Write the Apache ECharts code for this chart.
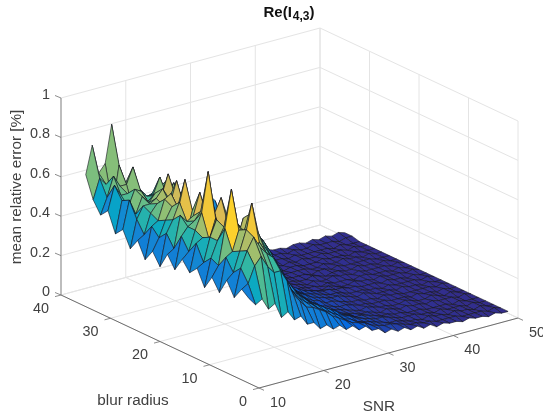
<!DOCTYPE html>
<html><head><meta charset="utf-8">
<script src="https://cdn.jsdelivr.net/npm/echarts@6/dist/echarts.min.js"></script>
<style>html,body{margin:0;padding:0;background:#fff}#c{width:543px;height:419px}</style>
</head><body><div id="c"></div>
<script>
const snrValues=[10,11,12,13,14,15,16,17,18,19,20,21,22,23,24,25,26,27,28,29,30,31,32,33,34,35,36,37,38,39,40,41,42,43,44,45,46,47,48,49,50];
const blurValues=[2,3.5,5,6.5,8,9.5,11,12.5,14,15.5,17,18.5,20,21.5,23,24.5,26,27.5,29,30.5,32,33.5,35];
const snrTicks=[10,20,30,40,50];
const blurTicks=[0,10,20,30,40];
const zTicks=[0,0.2,0.4,0.6,0.8,1];
const zTickLabels=['0','0.2','0.4','0.6','0.8','1'];
// mean relative error in hundredths of a percent; one row per blur radius, one column per SNR
const r01=[43,39,41,35,37, 29,31,26,27,22, 22,18,19,16,17, 14,15,12,13,10, 10,7,8,6,7, 5,6,4,5,3, 4,3,3,2,3, 2,2,1,2,1, 1];
const r02=[46,48,56,60,54, 50,50,44,36,32, 28,27,25,23,20, 18,16,14,13,12, 10,9,8,8,7, 6,5,5,4,4, 3,3,3,3,2, 2,2,2,1,2, 1];
const r03=[40,54,62,68,62, 58,55,47,41,35, 31,28,26,23,21, 19,17,14,13,11, 10,9,8,7,6, 6,5,4,4,3, 4,3,3,2,3, 2,2,1,2,1, 1];
const r04=[47,50,60,70,55, 62,56,52,46,40, 33,30,27,24,22, 20,18,16,13,12, 10,9,8,7,7, 6,5,4,4,4, 3,3,2,3,2, 2,2,1,2,1, 1];
const r05=[39,56,58,68,64, 80,64,56,50,44, 38,33,28,25,22, 20,17,15,12,11, 10,8,8,7,6, 5,5,4,4,3, 3,3,2,2,2, 2,1,2,1,1, 1];
const r06=[45,50,68,87,68, 64,72,58,56,50, 43,37,30,26,22, 19,17,15,12,10, 9,8,7,6,6, 5,4,5,4,3, 4,3,3,2,3, 2,2,2,1,2, 1];
const r07=[38,52,60,66,64, 58,68,56,58,54, 46,40,34,27,22, 18,16,14,12,10, 9,8,7,6,5, 6,5,4,4,3, 3,4,3,2,2, 3,2,1,2,1, 1];
const r08=[46,48,60,68,54, 62,52,60,60,54, 52,46,40,34,26, 20,17,14,12,10, 9,8,7,7,6, 5,5,4,4,4, 3,3,3,2,3, 2,2,1,2,1, 1];
const r09=[42,56,58,56,66, 55,60,62,56,52, 46,44,38,32,26, 21,18,15,13,11, 10,8,8,7,6, 5,5,4,4,3, 4,3,3,2,2, 2,2,2,1,2, 1];
const r10=[47,50,60,68,88, 66,73,62,56,54, 46,44,40,34,28, 23,19,16,14,12, 10,9,8,7,7, 6,5,4,5,4, 3,3,3,2,3, 2,2,1,2,1, 1];
const r11=[40,56,60,62,66, 62,60,62,56,50, 48,44,42,36,30, 25,20,17,14,12, 10,9,8,7,6, 6,5,4,4,4, 3,3,2,3,2, 2,2,2,1,2, 1];
const r12=[46,48,64,60,62, 73,60,56,54,50, 46,46,42,38,32, 27,22,18,15,13, 11,9,8,7,6, 6,5,5,4,4, 3,3,3,2,3, 2,2,1,2,1, 1];
const r13=[38,54,60,68,50, 62,62,56,52,48, 46,45,44,42,40, 34,26,22,17,12, 8,6,5,5,4, 4,5,4,3,3, 4,3,3,2,3, 2,2,2,1,2, 1];
const r14=[44,50,58,64,62, 76,60,58,54,50, 46,44,44,42,40, 36,30,24,19,14, 9,7,5,5,4, 4,3,4,3,3, 3,2,3,3,2, 2,2,1,2,1, 1];
const r15=[38,54,56,66,68, 60,60,54,54,50, 48,46,44,44,40, 38,32,26,20,15, 11,7,5,5,4, 3,4,3,3,4, 3,3,2,3,2, 2,2,2,1,2, 1];
const r16=[46,48,58,62,60, 60,71,58,50,50, 46,46,44,42,42, 38,34,28,22,16, 12,8,5,4,4, 3,3,4,3,2, 3,3,2,2,3, 2,2,1,2,1, 1];
const r17=[40,54,60,60,62, 66,60,60,56,48, 46,44,42,42,42, 40,36,30,24,18, 13,9,6,4,4, 3,3,3,2,3, 3,2,3,2,2, 2,2,2,1,1, 1];
const r18=[48,62,54,62,58, 62,60,70,58,50, 46,44,42,42,40, 40,38,32,26,20, 15,10,7,5,4, 3,3,3,3,2, 2,3,2,2,3, 2,2,1,2,1, 1];
const r19=[44,60,56,64,62, 56,58,56,56,62, 56,46,38,44,44, 42,40,34,28,22, 16,11,8,5,4, 3,2,3,3,2, 2,2,3,2,2, 2,1,2,1,1, 1];
const r20=[54,66,60,60,50, 60,56,56,64,54, 52,46,42,36,42, 42,38,38,32,26, 20,14,9,6,4, 3,3,2,3,2, 3,2,2,3,2, 2,2,1,2,1, 1];
const r21=[50,58,68,62,62, 70,58,50,54,56, 58,52,48,40,32, 42,40,38,34,24, 28,20,16,12,8, 6,4,3,3,2, 3,2,2,2,2, 2,1,2,1,1, 1];
const r22=[56,66,62,50,70, 60,62,54,50,48, 52,50,52,46,44, 32,36,36,38,32, 26,28,24,20,18, 14,10,6,3,3, 2,3,2,2,3, 2,2,2,1,2, 2];
const r23=[67,81,66,70,89, 68,56,60,50,46, 44,46,48,50,44, 42,30,34,38,40, 36,22,26,22,18, 20,16,10,4,3, 3,2,3,3,2, 3,2,3,2,3, 2];
const errorRows=[r01,r02,r03,r04,r05,r06,r07,r08,r09,r10,r11,r12,r13,r14,r15,r16,r17,r18,r19,r20,r21,r22,r23];

const parula=['#352A87','#0363E1','#1485D4','#06A7C6','#38B99E','#92BF73','#D9BA56','#FCCE2E','#F9FB0E'];
const zStops=[0,0.05,0.12,0.2,0.4,0.5,0.6,0.7,0.8,0.9,1];
const cStops=[0,0.02,0.10,0.2,0.27,0.42,0.58,0.72,0.84,0.95,1];
// colour data differs a little from height near the low-SNR edge and at high blur
const snrColorBias=[0,-0.2,-0.08,-0.03];
const blurColorCap=[1,1,1,1,1,1,1,1,1,0.8,1,1,1,1,1,1,0.8,0.8,0.62,0.62,0.62,0.62,0.62];

function hex(c){return [1,3,5].map(i=>parseInt(c.substr(i,2),16));}
function colorFor(z,i,j){
  z=Math.min(z+(snrColorBias[i]||0),blurColorCap[j]);
  z=Math.max(0,z);
  let k=0; while(k<zStops.length-2&&z>zStops[k+1])k++;
  const c=cStops[k]+(cStops[k+1]-cStops[k])*(z-zStops[k])/(zStops[k+1]-zStops[k]);
  const p=Math.max(0,Math.min(1,c))*(parula.length-1), a=Math.min(parula.length-2,Math.floor(p)), f=p-a;
  const A=hex(parula[a]),B=hex(parula[a+1]);
  return 'rgb('+A.map((v,n)=>Math.round(v+(B[n]-v)*f)).join(',')+')';
}
// fixed orthographic MATLAB-style view, in page units
function project(s,b,z){
  const u=(s-10)/40,v=b/40;
  return [259+259*u-198*v, 388-70*u-93*v-197*z];
}
const cells=[];
for(let j=blurValues.length-2;j>=0;j--)for(let i=snrValues.length-2;i>=0;i--)cells.push([i,j]);

function seg(api,a,b,color,w){
  const p=api.coord(a),q=api.coord(b);
  return {type:'line',shape:{x1:p[0],y1:p[1],x2:q[0],y2:q[1]},style:{stroke:color,lineWidth:w},silent:true};
}
const FONT='"Liberation Sans",Arial,sans-serif';
function txt(api,pt,dx,dy,str,align,size,rotation){
  const p=api.coord(pt);
  return {type:'text',x:p[0]+dx,y:p[1]+dy,rotation:rotation||0,style:{text:str,fill:'#404040',font:(size||14.4)+'px '+FONT,align:align||'center',verticalAlign:'middle'}};
}
const GRID='#e4e4e4',AXIS='#6e6e6e';
function frame(params,api){
  const ch=[];
  const P=project;
  zTicks.forEach(z=>{
    ch.push(seg(api,P(10,40,z),P(50,40,z),GRID,1));
    ch.push(seg(api,P(50,40,z),P(50,0,z),GRID,1));
  });
  snrTicks.forEach(s=>{
    ch.push(seg(api,P(s,40,0),P(s,40,1),GRID,1));
    ch.push(seg(api,P(s,0,0),P(s,40,0),GRID,1));
  });
  blurTicks.forEach(b=>{
    ch.push(seg(api,P(50,b,0),P(50,b,1),GRID,1));
    ch.push(seg(api,P(10,b,0),P(50,b,0),GRID,1));
  });
  ch.push(seg(api,P(10,40,0),P(10,40,1),'#9a9a9a',1.2));
  ch.push(seg(api,P(10,40,0),P(10,0,0),AXIS,1));
  ch.push(seg(api,P(10,0,0),P(50,0,0),AXIS,1));
  zTicks.forEach((z,i)=>{
    const a=P(10,40,z);
    ch.push(seg(api,a,[a[0]-6,a[1]-2.5],AXIS,0.8));
    ch.push(txt(api,a,-11,-3,zTickLabels[i],'right'));
  });
  blurTicks.forEach(b=>{
    const a=P(10,b,0);
    ch.push(seg(api,a,[a[0]-6,a[1]+1.6],AXIS,0.8));
    ch.push(txt(api,a,b===0?-16:-20,14,String(b),'center'));
  });
  snrTicks.forEach(s=>{
    const a=P(s,0,0);
    ch.push(seg(api,a,[a[0]+5,a[1]+2.3],AXIS,0.8));
    ch.push(txt(api,a,19,15,String(s),'center'));
  });
  ch.push(txt(api,[133,401],0,0,'blur radius','center',15.3));
  ch.push(txt(api,[379,407],0,0,'SNR','center',15.3));
  ch.push(txt(api,[17,187],0,0,'mean relative error [%]','center',15.3,Math.PI/2));
  return {type:'group',children:ch};
}
function surfaceCell(params,api){
  const i=api.value(0),j=api.value(1);
  const corner=(a,b)=>api.coord(project(snrValues[a],blurValues[b],errorRows[b][a]/100));
  return {type:'polygon',
    shape:{points:[corner(i,j),corner(i+1,j),corner(i+1,j+1),corner(i,j+1)]},
    style:{fill:colorFor(errorRows[j+1][i+1]/100,i+1,j+1),stroke:'#14141e',lineWidth:0.6,lineJoin:'round'},silent:true};
}
const chart=echarts.init(document.getElementById('c'),null,{renderer:'canvas'});
chart.setOption({
  animation:false,
  backgroundColor:'#fff',
  title:{text:'{a|Re(I}{b|4,3}{a|)}',left:284,top:-3,textAlign:'center',
    textStyle:{rich:{a:{fontFamily:'Liberation Sans',fontWeight:'bold',fontSize:15,color:'#111'},
      b:{fontFamily:'Liberation Sans',fontWeight:'bold',fontSize:12,color:'#111',padding:[9,0,0,1]}}}},
  grid:{left:0,right:0,top:0,bottom:0},
  xAxis:{type:'value',min:0,max:543,show:false},
  yAxis:{type:'value',min:0,max:419,inverse:true,show:false},
  series:[
    {type:'custom',name:'frame',coordinateSystem:'cartesian2d',clip:false,silent:true,data:[[0,0]],renderItem:frame,z:1},
    {type:'custom',name:'surface',coordinateSystem:'cartesian2d',clip:false,silent:true,progressive:0,data:cells,renderItem:surfaceCell,z:2}
  ]
});
</script></body></html>
